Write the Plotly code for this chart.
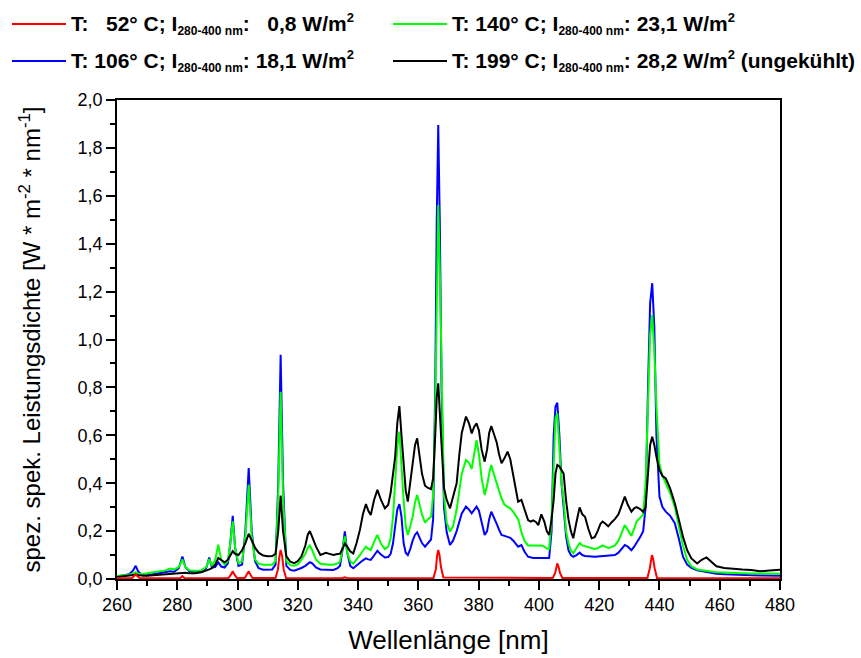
import plotly.graph_objects as go

# Wavelength grid (nm) shared by the three cooled/uncooled spectra
wavelength = [
    260, 262, 264, 265.3, 266.2, 267.1, 268.5, 270, 272, 274, 276, 277.6, 279, 280.5, 281.7, 282.7,
    284, 286, 288, 289.6, 290.6, 291.5, 292.6, 293.6, 294.6, 295.7, 296.8, 297.6, 298.4, 299.2,
    300.3, 301.5, 302.6, 303.7, 304.7, 305.8, 307, 308.5, 310, 311.5, 312.6, 313.5, 314.3, 315.1,
    316.2, 317.5, 318.8, 320, 321.2, 322.5, 323.3, 324.0, 324.8, 326.0, 327.5, 329.3, 330.5, 331.8,
    333.2, 334.0, 334.8, 335.6, 336.4, 337.4, 338.4, 339.5, 340.6, 341.6, 342.6, 343.4, 344.2,
    345.3, 346.4, 347.6, 348.9, 350.0, 350.8, 351.6, 352.3, 353.0, 353.7, 354.4, 355.1, 355.8,
    356.5, 357.3, 358.1, 358.9, 359.6, 360.4, 361.2, 362.2, 363.2, 364.2, 364.9, 365.6, 366.1,
    366.6, 367.1, 367.7, 368.5, 369.4, 370.5, 371.5, 372.7, 373.6, 374.4, 375.8, 376.8, 377.7,
    378.5, 379.3, 380.1, 381.0, 382.0, 382.8, 383.5, 384.2, 385.0, 386.0, 386.8, 387.6, 388.6,
    389.6, 390.5, 391.5, 392.3, 393.1, 394.2, 395.2, 396.4, 397.3, 398.1, 399.0, 399.8, 400.8,
    401.8, 402.6, 403.4, 404.2, 404.9, 405.5, 406.1, 406.8, 407.5, 408.2, 409.0, 409.8, 410.6,
    411.4, 412.5, 413.5, 414.4, 415.3, 416.4, 417.5, 418.5, 419.5, 420.4, 421.1, 422.0, 423.0,
    424.0, 425.2, 426.4, 427.6, 428.5, 429.5, 430.7, 431.6, 432.4, 433.6, 434.6, 435.4, 436.2,
    436.9, 437.6, 438.3, 439.0, 440.0, 441.0, 442.1, 443.5, 445.1, 446.4, 447.8, 449.2, 450.6,
    452.5, 454.0, 455.6, 457.0, 458.9, 461.5, 464.4, 467.5, 470.5, 473.3, 476.5, 480,
]

# T = 106 °C
blue = [
    0.010, 0.016, 0.020, 0.035, 0.055, 0.030, 0.015, 0.016, 0.020, 0.022, 0.028, 0.032, 0.030, 0.045, 0.094, 0.050,
    0.032, 0.030, 0.030, 0.045, 0.090, 0.048, 0.050, 0.070, 0.052, 0.048, 0.065, 0.150, 0.264, 0.130,
    0.055, 0.060, 0.200, 0.463, 0.200, 0.074, 0.045, 0.039, 0.038, 0.040, 0.060, 0.400, 0.936, 0.400,
    0.055, 0.038, 0.035, 0.040, 0.046, 0.055, 0.065, 0.070, 0.065, 0.048, 0.040, 0.040, 0.038, 0.038,
    0.045, 0.055, 0.120, 0.199, 0.110, 0.055, 0.045, 0.055, 0.068, 0.078, 0.086, 0.082, 0.080,
    0.098, 0.118, 0.102, 0.090, 0.092, 0.105, 0.150, 0.230, 0.290, 0.313, 0.260, 0.150, 0.110,
    0.100, 0.125, 0.160, 0.185, 0.195, 0.175, 0.150, 0.135, 0.150, 0.165, 0.250, 0.800, 1.500,
    1.896, 1.500, 0.800, 0.300, 0.195, 0.142, 0.160, 0.200, 0.240, 0.274, 0.302, 0.290, 0.274,
    0.290, 0.302, 0.285, 0.230, 0.184, 0.200, 0.250, 0.281, 0.260, 0.230, 0.205, 0.184, 0.180,
    0.177, 0.172, 0.160, 0.148, 0.135, 0.142, 0.115, 0.093, 0.090, 0.088, 0.088, 0.088, 0.088,
    0.088, 0.088, 0.088, 0.200, 0.600, 0.720, 0.736, 0.600, 0.400, 0.300, 0.180, 0.120, 0.100,
    0.093, 0.100, 0.110, 0.100, 0.096, 0.094, 0.093, 0.093, 0.094, 0.095, 0.096, 0.096, 0.096,
    0.098, 0.100, 0.110, 0.130, 0.142, 0.135, 0.120, 0.135, 0.150, 0.175, 0.200, 0.300, 0.800,
    1.150, 1.235, 1.050, 0.600, 0.344, 0.300, 0.281, 0.265, 0.233, 0.170, 0.093, 0.060, 0.046,
    0.036, 0.033, 0.030, 0.026, 0.022, 0.020, 0.018, 0.017, 0.016, 0.015, 0.015, 0.014,
]

# T = 140 °C
green = [
    0.012, 0.014, 0.018, 0.022, 0.028, 0.022, 0.020, 0.024, 0.028, 0.030, 0.036, 0.044, 0.040, 0.050, 0.082, 0.050,
    0.036, 0.034, 0.036, 0.050, 0.083, 0.055, 0.080, 0.143, 0.080, 0.060, 0.075, 0.150, 0.241, 0.130,
    0.066, 0.074, 0.180, 0.394, 0.180, 0.081, 0.064, 0.060, 0.060, 0.060, 0.075, 0.350, 0.782, 0.340,
    0.075, 0.058, 0.055, 0.062, 0.080, 0.105, 0.130, 0.140, 0.120, 0.082, 0.064, 0.060, 0.060, 0.060,
    0.065, 0.072, 0.120, 0.178, 0.110, 0.074, 0.063, 0.080, 0.100, 0.118, 0.135, 0.126, 0.121,
    0.155, 0.184, 0.148, 0.125, 0.135, 0.170, 0.260, 0.400, 0.550, 0.615, 0.450, 0.330, 0.220,
    0.184, 0.220, 0.260, 0.320, 0.351, 0.310, 0.270, 0.235, 0.250, 0.260, 0.350, 0.700, 1.250,
    1.562, 1.300, 0.900, 0.350, 0.236, 0.198, 0.220, 0.290, 0.370, 0.440, 0.497, 0.485, 0.460,
    0.530, 0.580, 0.520, 0.420, 0.351, 0.390, 0.440, 0.476, 0.440, 0.400, 0.365, 0.337, 0.310,
    0.302, 0.295, 0.280, 0.265, 0.250, 0.195, 0.160, 0.140, 0.140, 0.140, 0.138, 0.140, 0.140,
    0.135, 0.128, 0.125, 0.250, 0.470, 0.670, 0.692, 0.560, 0.400, 0.330, 0.200, 0.150, 0.120,
    0.107, 0.130, 0.150, 0.140, 0.137, 0.132, 0.128, 0.125, 0.128, 0.135, 0.140, 0.135, 0.130,
    0.133, 0.140, 0.160, 0.200, 0.225, 0.205, 0.180, 0.210, 0.240, 0.255, 0.270, 0.400, 0.700,
    1.020, 1.102, 0.950, 0.720, 0.480, 0.430, 0.400, 0.360, 0.300, 0.220, 0.140, 0.080, 0.053,
    0.040, 0.038, 0.035, 0.031, 0.028, 0.026, 0.025, 0.024, 0.023, 0.022, 0.022, 0.022,
]

# T = 199 °C (uncooled)
black = [
    0.008, 0.012, 0.014, 0.016, 0.018, 0.016, 0.014, 0.014, 0.016, 0.018, 0.020, 0.022, 0.022, 0.024, 0.026, 0.026,
    0.024, 0.024, 0.028, 0.034, 0.040, 0.045, 0.060, 0.088, 0.078, 0.070, 0.080, 0.100, 0.116, 0.105,
    0.100, 0.120, 0.150, 0.189, 0.160, 0.131, 0.110, 0.098, 0.095, 0.096, 0.105, 0.200, 0.348, 0.200,
    0.095, 0.072, 0.066, 0.075, 0.095, 0.140, 0.185, 0.200, 0.175, 0.136, 0.100, 0.109, 0.105, 0.100,
    0.104, 0.106, 0.125, 0.148, 0.135, 0.115, 0.107, 0.150, 0.205, 0.270, 0.313, 0.285, 0.267,
    0.330, 0.372, 0.330, 0.295, 0.310, 0.360, 0.430, 0.510, 0.650, 0.722, 0.600, 0.469, 0.370,
    0.323, 0.400, 0.497, 0.560, 0.587, 0.520, 0.440, 0.390, 0.380, 0.375, 0.420, 0.600, 0.760,
    0.817, 0.720, 0.560, 0.380, 0.330, 0.295, 0.340, 0.400, 0.520, 0.610, 0.678, 0.650, 0.608,
    0.635, 0.650, 0.620, 0.540, 0.490, 0.540, 0.610, 0.639, 0.610, 0.570, 0.520, 0.483, 0.505,
    0.532, 0.500, 0.430, 0.370, 0.323, 0.330, 0.290, 0.246, 0.240, 0.245, 0.238, 0.225, 0.270,
    0.240, 0.200, 0.184, 0.250, 0.330, 0.440, 0.476, 0.470, 0.455, 0.440, 0.330, 0.250, 0.200,
    0.170, 0.240, 0.299, 0.270, 0.260, 0.210, 0.170, 0.175, 0.200, 0.230, 0.240, 0.232, 0.220,
    0.235, 0.250, 0.270, 0.315, 0.344, 0.310, 0.281, 0.295, 0.300, 0.292, 0.280, 0.300, 0.420,
    0.560, 0.594, 0.560, 0.510, 0.455, 0.430, 0.420, 0.380, 0.316, 0.250, 0.177, 0.120, 0.086,
    0.065, 0.080, 0.090, 0.075, 0.053, 0.046, 0.042, 0.040, 0.038, 0.032, 0.035, 0.039,
]

# T = 52 °C, only the mercury lines rise above zero
red_wavelength = [
    260, 265.0, 265.8, 266.2, 266.7, 267.5, 281.0, 281.7, 282.4, 297.0, 297.8, 298.4, 299.0, 299.8,
    302.4, 303.1, 303.7, 304.3, 305.0, 312.6, 313.4, 313.9, 314.3, 314.8, 315.3, 316.1,
    334.6, 335.6, 336.6, 365.0, 365.8, 366.2, 366.6, 367.0, 367.5, 368.3, 404.6, 405.4,
    405.8, 406.1, 406.5, 407.0, 407.8, 436.0, 436.8, 437.2, 437.5, 437.9, 438.4, 439.2, 480,
]
red = [
    0.003, 0.004, 0.014, 0.020, 0.012, 0.004, 0.003, 0.012, 0.003, 0.004, 0.018, 0.032, 0.018, 0.004,
    0.004, 0.018, 0.032, 0.018, 0.004, 0.004, 0.040, 0.095, 0.121, 0.095, 0.040, 0.004,
    0.003, 0.007, 0.003, 0.004, 0.040, 0.095, 0.121, 0.100, 0.050, 0.006, 0.004, 0.025,
    0.052, 0.065, 0.052, 0.025, 0.004, 0.004, 0.045, 0.085, 0.100, 0.085, 0.045, 0.004, 0.003,
]

legend_labels = [
    ("T:\u00a0\u00a0\u00a052° C; I", ":\u00a0\u00a0\u00a00,8 W/m", ""),
    ("T: 140° C; I", ": 23,1 W/m", ""),
    ("T: 106° C; I", ": 18,1 W/m", ""),
    ("T: 199° C; I", ": 28,2 W/m", " (ungekühlt)"),
]
sub_text = "280-400 nm"

FONT = "Arial, Liberation Sans, sans-serif"
RED, GREEN, BLUE, BLACK = "#ff0000", "#00ff00", "#0000ff", "#000000"
LW = 2

fig = go.Figure()
fig.add_trace(go.Scatter(x=wavelength, y=blue, mode="lines", line=dict(color=BLUE, width=LW), showlegend=False))
fig.add_trace(go.Scatter(x=wavelength, y=green, mode="lines", line=dict(color=GREEN, width=LW), showlegend=False))
fig.add_trace(go.Scatter(x=wavelength, y=black, mode="lines", line=dict(color=BLACK, width=LW), showlegend=False))
fig.add_trace(go.Scatter(x=red_wavelength, y=red, mode="lines", line=dict(color=RED, width=LW), showlegend=False))

# Plot area in pixels: x 117..780, y 100..579
L, R, T, B = 117, 780, 100, 579
W, H = 861, 658


def px(xp):
    return (xp - L) / (R - L)


def py(yp):
    return (B - yp) / (B - T)


# Hand-made two-column legend above the plot
entries = [
    (legend_labels[0], RED, 12, 24),
    (legend_labels[1], GREEN, 393, 24),
    (legend_labels[2], BLUE, 12, 61),
    (legend_labels[3], BLACK, 393, 61),
]
for (pre, post, tail), color, x0, y0 in entries:
    fig.add_shape(type="line", xref="paper", yref="paper",
                  x0=px(x0), x1=px(x0 + 54), y0=py(y0), y1=py(y0),
                  line=dict(color=color, width=2))
    text = (f"<b>{pre}<sub><span style='font-size:12px'>{sub_text}</span></sub>"
            f"{post}<sup><span style='font-size:13px'>2</span></sup>{tail}</b>")
    fig.add_annotation(xref="paper", yref="paper", x=px(x0 + 57), y=py(y0),
                       xanchor="left", yanchor="middle", showarrow=False,
                       text=text, font=dict(family=FONT, size=21, color="black"))

fig.update_layout(
    width=W, height=H,
    margin=dict(l=L, r=W - R, t=T, b=H - B, pad=0, autoexpand=False),
    paper_bgcolor="white", plot_bgcolor="white",
    separators=",.",
    font=dict(family=FONT, color="black"),
    showlegend=False,
)
fig.update_xaxes(
    range=[260, 480], dtick=20, tick0=260, automargin=False,
    showline=True, linecolor="black", linewidth=1.5, mirror=True,
    ticks="outside", ticklen=9, tickwidth=1.5, tickcolor="black",
    minor=dict(dtick=10, ticks="outside", ticklen=5, tickwidth=1.5, tickcolor="black"),
    showgrid=False, zeroline=False,
    tickfont=dict(size=18, family=FONT),
    title=dict(text="Wellenlänge [nm]", font=dict(size=26, family=FONT), standoff=16),
)
fig.update_yaxes(
    range=[0, 2.0], dtick=0.2, tick0=0, tickformat=".1f", automargin=False,
    showline=True, linecolor="black", linewidth=1.5, mirror=True,
    ticks="outside", ticklen=9, tickwidth=1.5, tickcolor="black",
    minor=dict(dtick=0.1, ticks="outside", ticklen=5, tickwidth=1.5, tickcolor="black"),
    showgrid=False, zeroline=False,
    tickfont=dict(size=18, family=FONT),
    title=dict(text="spez. spek. Leistungsdichte [W * m<sup>-2</sup> * nm<sup>-1</sup>]",
               font=dict(size=24, family=FONT), standoff=30),
)

fig.write_html("out.html")
